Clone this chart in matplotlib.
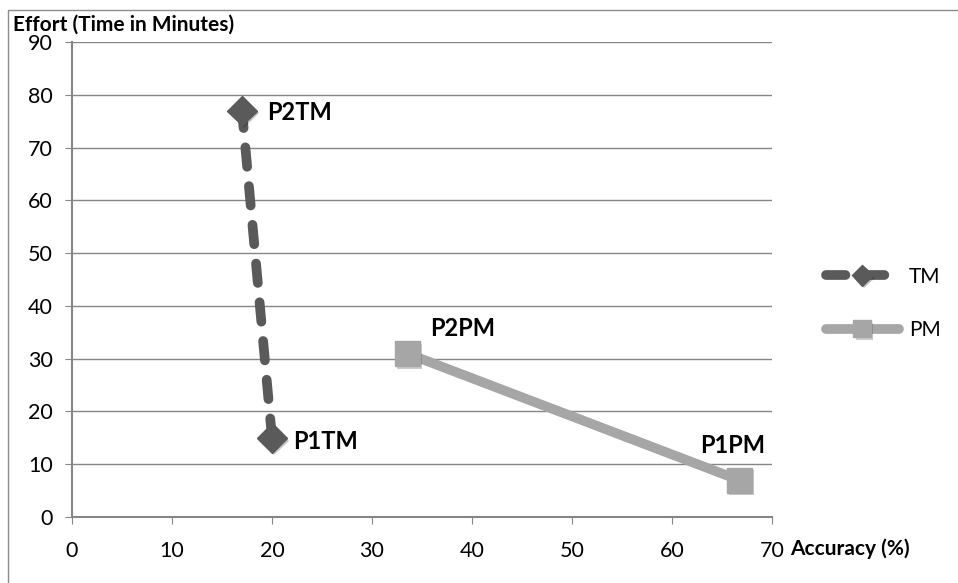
import matplotlib.pyplot as plt
import matplotlib.patheffects as pe
from matplotlib.patches import Rectangle

# datos
tm_x = [20, 17]
tm_y = [15, 77]
tm_labels = ['P1TM', 'P2TM']
pm_x = [66.7, 33.5]
pm_y = [7, 31]
pm_labels = ['P1PM', 'P2PM']
xticks = [0, 10, 20, 30, 40, 50, 60, 70]
yticks = [0, 10, 20, 30, 40, 50, 60, 70, 80, 90]

plt.rcParams['font.family'] = ['Lato', 'DejaVu Sans']

fig = plt.figure(figsize=(9.58, 5.83), dpi=100)
fig.patches.append(Rectangle((8/958, -0.1), 1.2, 1 - 10/583 + 0.1,
                             transform=fig.transFigure, fill=False,
                             edgecolor='#8c8c8c', linewidth=1))
ax = fig.add_axes([72/958, 1 - 517/583, 700/958, 475/583])

shadow = [pe.SimplePatchShadow(offset=(1.5, -2), alpha=0.25), pe.Normal()]

dark = '#5a5a5a'
light = '#a6a6a6'
ax.plot(tm_x, tm_y, color=dark, linewidth=7, linestyle=(0, (2.0, 2.0)),
        dash_capstyle='round', marker='D', markersize=15, label='TM',
        path_effects=shadow, zorder=3)
ax.plot(pm_x, pm_y, color=light, linewidth=7, solid_capstyle='round',
        marker='s', markersize=18, label='PM', path_effects=shadow, zorder=3)

offsets_tm = [(21, -4), (25, -2)]
offsets_pm = [(-39, 35), (23, 25)]
for xi, yi, lab, off in zip(tm_x, tm_y, tm_labels, offsets_tm):
    ax.annotate(lab, (xi, yi), xytext=off, textcoords='offset pixels',
                fontsize=17, fontweight='bold', va='center', ha='left')
for xi, yi, lab, off in zip(pm_x, pm_y, pm_labels, offsets_pm):
    ax.annotate(lab, (xi, yi), xytext=off, textcoords='offset pixels',
                fontsize=17, fontweight='bold', va='center', ha='left')

ax.set_xlim(0, 70)
ax.set_ylim(0, 90)
ax.set_xticks(xticks)
ax.set_yticks(yticks)
ax.tick_params(labelsize=15.5, length=5, color='#868686', direction='out')
ax.tick_params(axis='x', pad=12)
ax.tick_params(axis='y', pad=9)
ax.grid(axis='y', color='#868686', linewidth=1)
ax.set_axisbelow(True)
for s in ['top', 'right']:
    ax.spines[s].set_visible(False)
for s in ['left', 'bottom']:
    ax.spines[s].set_color('#868686')
    ax.spines[s].set_linewidth(1.5)

fig.text(13/958, 1 - 25/583, 'Effort (Time in Minutes)', fontsize=15,
         fontweight='bold', va='center', ha='left')
fig.text(790/958, 1 - 549/583, 'Accuracy (%)', fontsize=15,
         fontweight='bold', va='center', ha='left')

leg = ax.legend(loc='center left', bbox_to_anchor=(1.05, 0.45), frameon=False,
                fontsize=15, handlelength=3.5, labelspacing=1.6,
                handletextpad=0.5, markerscale=0.7)

fig.savefig('out.png', dpi=100)
